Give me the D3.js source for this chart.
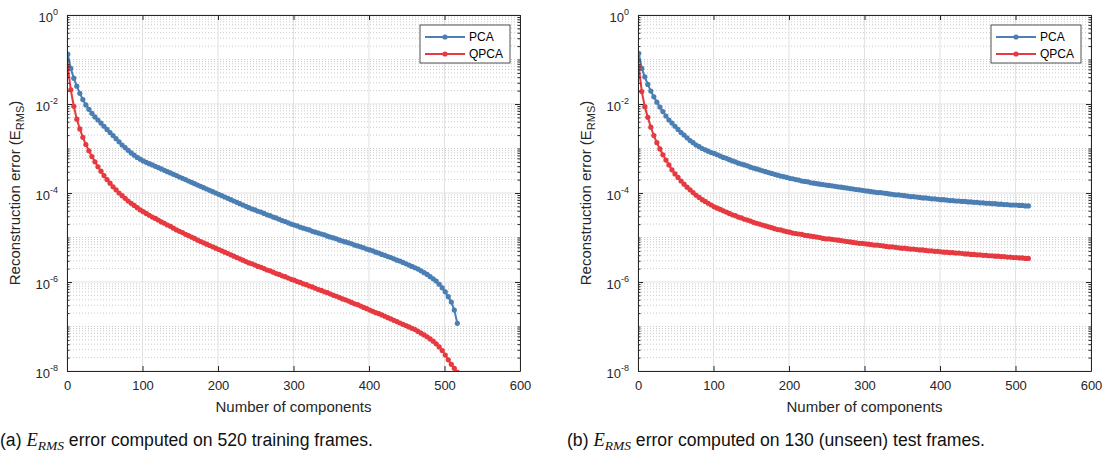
<!DOCTYPE html>
<html><head><meta charset="utf-8">
<script src="https://cdn.jsdelivr.net/npm/d3@7"></script>
<style>body{margin:0;background:#fff}svg{display:block}</style>
</head><body><svg id="c" width="1110" height="454"></svg>
<script>
// ---------- data ----------
const components = [1,5,9,13,17,21,25,29,33,37,41,45,49,53,57,61,65,69,73,77,81,85,89,93,97,101,105,109,113,117,121,125,129,133,137,141,145,149,153,157,161,165,169,173,177,181,185,189,193,197,201,205,209,213,217,221,225,229,233,237,241,245,249,253,257,261,265,269,273,277,281,285,289,293,297,301,305,309,313,317,321,325,329,333,337,341,345,349,353,357,361,365,369,373,377,381,385,389,393,397,401,405,409,413,417,421,425,429,433,437,441,445,449,453,457,461,465,469,473,477,481,485,489,493,497,501,505,509,513,517];

const pcaTrain = [
1.32e-1,6.31e-2,3.80e-2,2.51e-2,1.74e-2,1.26e-2,9.55e-3,7.59e-3,6.17e-3,5.13e-3,
4.37e-3,3.72e-3,3.16e-3,2.69e-3,2.29e-3,1.95e-3,1.66e-3,1.41e-3,1.20e-3,1.05e-3,
9.12e-4,7.94e-4,7.08e-4,6.31e-4,5.75e-4,5.25e-4,4.90e-4,4.57e-4,4.27e-4,3.98e-4,
3.72e-4,3.47e-4,3.24e-4,3.02e-4,2.82e-4,2.63e-4,2.46e-4,2.29e-4,2.14e-4,2.00e-4,
1.86e-4,1.74e-4,1.62e-4,1.51e-4,1.41e-4,1.32e-4,1.23e-4,1.15e-4,1.07e-4,1.00e-4,
9.33e-5,8.71e-5,8.13e-5,7.59e-5,7.08e-5,6.61e-5,6.17e-5,5.75e-5,5.37e-5,5.01e-5,
4.68e-5,4.37e-5,4.17e-5,3.89e-5,3.72e-5,3.47e-5,3.24e-5,3.09e-5,2.88e-5,2.75e-5,
2.57e-5,2.40e-5,2.29e-5,2.14e-5,2.00e-5,1.91e-5,1.82e-5,1.70e-5,1.62e-5,1.55e-5,
1.48e-5,1.38e-5,1.32e-5,1.26e-5,1.20e-5,1.15e-5,1.07e-5,1.02e-5,9.77e-6,9.33e-6,
8.71e-6,8.32e-6,7.94e-6,7.59e-6,7.24e-6,6.76e-6,6.46e-6,6.17e-6,5.89e-6,5.50e-6,
5.25e-6,5.01e-6,4.68e-6,4.47e-6,4.17e-6,3.98e-6,3.72e-6,3.55e-6,3.31e-6,3.09e-6,
2.95e-6,2.75e-6,2.57e-6,2.40e-6,2.24e-6,2.09e-6,1.95e-6,1.78e-6,1.62e-6,1.48e-6,
1.32e-6,1.18e-6,1.05e-6,8.91e-7,7.41e-7,6.03e-7,4.68e-7,3.55e-7,2.34e-7,1.18e-7];

const qpcaTrain = [
7.08e-2,2.09e-2,8.91e-3,4.57e-3,2.75e-3,1.78e-3,1.23e-3,8.91e-4,6.61e-4,5.01e-4,
3.89e-4,3.09e-4,2.46e-4,2.00e-4,1.66e-4,1.38e-4,1.18e-4,1.00e-4,8.71e-5,7.59e-5,
6.61e-5,5.89e-5,5.25e-5,4.68e-5,4.17e-5,3.80e-5,3.47e-5,3.16e-5,2.88e-5,2.69e-5,
2.46e-5,2.24e-5,2.09e-5,1.91e-5,1.78e-5,1.62e-5,1.48e-5,1.38e-5,1.29e-5,1.18e-5,
1.10e-5,1.02e-5,9.55e-6,8.71e-6,8.13e-6,7.59e-6,7.08e-6,6.61e-6,6.17e-6,5.75e-6,
5.37e-6,5.01e-6,4.68e-6,4.37e-6,4.07e-6,3.80e-6,3.55e-6,3.31e-6,3.09e-6,2.88e-6,
2.69e-6,2.57e-6,2.40e-6,2.24e-6,2.14e-6,2.00e-6,1.86e-6,1.78e-6,1.66e-6,1.55e-6,
1.48e-6,1.38e-6,1.32e-6,1.23e-6,1.15e-6,1.10e-6,1.02e-6,9.77e-7,9.12e-7,8.71e-7,
8.13e-7,7.76e-7,7.24e-7,6.76e-7,6.46e-7,6.03e-7,5.75e-7,5.37e-7,5.01e-7,4.79e-7,
4.47e-7,4.17e-7,3.98e-7,3.72e-7,3.47e-7,3.24e-7,3.09e-7,2.88e-7,2.69e-7,2.51e-7,
2.34e-7,2.19e-7,2.04e-7,1.95e-7,1.82e-7,1.70e-7,1.58e-7,1.48e-7,1.38e-7,1.29e-7,
1.20e-7,1.12e-7,1.05e-7,9.77e-8,9.12e-8,8.51e-8,7.76e-8,7.08e-8,6.46e-8,5.89e-8,
5.25e-8,4.68e-8,4.07e-8,3.47e-8,2.88e-8,2.29e-8,1.78e-8,1.41e-8,1.15e-8,9.33e-9];

const pcaTest = [
1.38e-1,6.31e-2,4.07e-2,2.75e-2,1.95e-2,1.45e-2,1.10e-2,8.51e-3,6.76e-3,5.37e-3,
4.37e-3,3.72e-3,3.16e-3,2.69e-3,2.29e-3,2.00e-3,1.74e-3,1.51e-3,1.35e-3,1.20e-3,
1.10e-3,1.00e-3,9.33e-4,8.71e-4,8.13e-4,7.76e-4,7.24e-4,6.76e-4,6.31e-4,6.03e-4,
5.62e-4,5.25e-4,5.01e-4,4.68e-4,4.47e-4,4.27e-4,4.07e-4,3.80e-4,3.63e-4,3.47e-4,
3.31e-4,3.16e-4,3.02e-4,2.88e-4,2.75e-4,2.63e-4,2.51e-4,2.40e-4,2.34e-4,2.24e-4,
2.14e-4,2.09e-4,2.00e-4,1.95e-4,1.86e-4,1.82e-4,1.78e-4,1.70e-4,1.66e-4,1.62e-4,
1.58e-4,1.55e-4,1.51e-4,1.48e-4,1.45e-4,1.41e-4,1.38e-4,1.35e-4,1.32e-4,1.29e-4,
1.26e-4,1.23e-4,1.20e-4,1.18e-4,1.15e-4,1.12e-4,1.10e-4,1.07e-4,1.05e-4,1.02e-4,
1.02e-4,1.00e-4,9.77e-5,9.55e-5,9.33e-5,9.12e-5,9.12e-5,8.91e-5,8.71e-5,8.51e-5,
8.32e-5,8.32e-5,8.13e-5,7.94e-5,7.76e-5,7.76e-5,7.59e-5,7.41e-5,7.41e-5,7.24e-5,
7.08e-5,7.08e-5,6.92e-5,6.76e-5,6.76e-5,6.61e-5,6.61e-5,6.46e-5,6.46e-5,6.31e-5,
6.31e-5,6.17e-5,6.17e-5,6.03e-5,6.03e-5,5.89e-5,5.89e-5,5.75e-5,5.75e-5,5.62e-5,
5.62e-5,5.50e-5,5.50e-5,5.37e-5,5.37e-5,5.37e-5,5.25e-5,5.25e-5,5.13e-5,5.13e-5];

const qpcaTest = [
6.92e-2,1.91e-2,8.71e-3,5.01e-3,3.02e-3,1.95e-3,1.35e-3,9.77e-4,7.24e-4,5.50e-4,
4.27e-4,3.31e-4,2.69e-4,2.24e-4,1.86e-4,1.58e-4,1.35e-4,1.18e-4,1.02e-4,8.91e-5,
7.94e-5,7.08e-5,6.46e-5,5.89e-5,5.37e-5,4.90e-5,4.57e-5,4.27e-5,3.98e-5,3.72e-5,
3.47e-5,3.24e-5,3.09e-5,2.88e-5,2.75e-5,2.57e-5,2.46e-5,2.34e-5,2.19e-5,2.09e-5,
2.00e-5,1.91e-5,1.82e-5,1.74e-5,1.66e-5,1.58e-5,1.51e-5,1.48e-5,1.41e-5,1.35e-5,
1.32e-5,1.26e-5,1.23e-5,1.20e-5,1.18e-5,1.12e-5,1.10e-5,1.07e-5,1.05e-5,1.02e-5,
1.00e-5,9.55e-6,9.33e-6,9.33e-6,9.12e-6,8.91e-6,8.71e-6,8.51e-6,8.32e-6,8.13e-6,
7.94e-6,7.76e-6,7.59e-6,7.41e-6,7.41e-6,7.24e-6,7.08e-6,6.92e-6,6.76e-6,6.76e-6,
6.61e-6,6.46e-6,6.31e-6,6.17e-6,6.17e-6,6.03e-6,5.89e-6,5.75e-6,5.75e-6,5.62e-6,
5.50e-6,5.50e-6,5.37e-6,5.25e-6,5.25e-6,5.13e-6,5.01e-6,5.01e-6,4.90e-6,4.90e-6,
4.79e-6,4.68e-6,4.68e-6,4.57e-6,4.57e-6,4.47e-6,4.47e-6,4.37e-6,4.27e-6,4.27e-6,
4.17e-6,4.17e-6,4.07e-6,4.07e-6,3.98e-6,3.98e-6,3.89e-6,3.89e-6,3.80e-6,3.80e-6,
3.72e-6,3.72e-6,3.63e-6,3.63e-6,3.55e-6,3.55e-6,3.47e-6,3.47e-6,3.39e-6,3.39e-6];

const xTicks = [0,100,200,300,400,500,600];
const yTickExponents = [0,-2,-4,-6,-8];
const seriesNames = ["PCA","QPCA"];
const seriesColors = ["#4b7fb4","#e63a40"];
const xLabel = "Number of components";
const yLabel = ["Reconstruction error (E","RMS",")"];
const captions = [
  ["(a) ","E","RMS"," error computed on 520 training frames."],
  ["(b) ","E","RMS"," error computed on 130 (unseen) test frames."]
];

// ---------- layout ----------
const svg = d3.select("#c");
const TOP = 15, BOTTOM = 371, PW = 453;
const AX = "#262626";
const SANS = "'Liberation Sans', Arial, Helvetica, sans-serif";
const SERIF = "'Liberation Serif', 'Times New Roman', serif";
const panels = [
  {left:67, series:[pcaTrain, qpcaTrain], cap:captions[0], capX:0},
  {left:638, series:[pcaTest, qpcaTest], cap:captions[1], capX:567}
];

panels.forEach((p, pi) => {
  const x = d3.scaleLinear().domain([0,600]).range([p.left, p.left+PW]);
  const y = d3.scaleLog().domain([1e-8,1]).range([BOTTOM, TOP]);
  const g = svg.append("g");

  const majorVals = yTickExponents.map(e => Math.pow(10, e));
  const allVals = y.ticks();
  const isMajor = v => majorVals.some(m => Math.abs(v - m) / m < 1e-6);
  const minorVals = allVals.filter(v => !isMajor(v));

  // minor grid (dotted)
  g.append("g").selectAll("line").data(minorVals).join("line")
    .attr("x1", p.left).attr("x2", p.left+PW)
    .attr("y1", d => y(d)).attr("y2", d => y(d))
    .attr("stroke", "#bdbdbd").attr("stroke-width", 0.8).attr("stroke-dasharray", "1,2");
  // major grid
  g.append("g").selectAll("line").data(majorVals).join("line")
    .attr("x1", p.left).attr("x2", p.left+PW)
    .attr("y1", d => y(d)).attr("y2", d => y(d))
    .attr("stroke", "#e1e1e1").attr("stroke-width", 1);
  g.append("g").selectAll("line").data(xTicks).join("line")
    .attr("x1", d => x(d)).attr("x2", d => x(d))
    .attr("y1", TOP).attr("y2", BOTTOM)
    .attr("stroke", "#e1e1e1").attr("stroke-width", 1);

  // clip
  const cid = "clip" + pi;
  svg.append("clipPath").attr("id", cid).append("rect")
    .attr("x", p.left).attr("y", TOP).attr("width", PW).attr("height", BOTTOM-TOP);

  const plot = g.append("g").attr("clip-path", `url(#${cid})`);
  p.series.forEach((vals, si) => {
    const pts = components.map((c, i) => [c, vals[i]]);
    plot.append("path").datum(pts)
      .attr("d", d3.line().x(d => x(d[0])).y(d => y(d[1])))
      .attr("fill", "none").attr("stroke", seriesColors[si]).attr("stroke-width", 2);
    plot.append("g").selectAll("circle").data(pts).join("circle")
      .attr("cx", d => x(d[0])).attr("cy", d => y(d[1])).attr("r", 2.6)
      .attr("fill", seriesColors[si]);
  });

  // axes
  const styleAxis = sel => {
    sel.select(".domain").attr("stroke", AX).attr("stroke-width", 1);
    sel.selectAll(".tick line").attr("stroke", AX).attr("stroke-width", 1);
    sel.selectAll("text").attr("fill", AX).attr("font-family", SANS).attr("font-size", 13);
  };
  const gxb = g.append("g").attr("transform", `translate(0,${BOTTOM})`)
    .call(d3.axisBottom(x).tickValues(xTicks).tickSizeInner(-5).tickSizeOuter(0).tickPadding(10));
  styleAxis(gxb);
  const gxt = g.append("g").attr("transform", `translate(0,${TOP})`)
    .call(d3.axisTop(x).tickValues(xTicks).tickSizeInner(-5).tickSizeOuter(0).tickFormat(""));
  styleAxis(gxt);

  const gyl = g.append("g").attr("transform", `translate(${p.left},0)`)
    .call(d3.axisLeft(y).tickValues(majorVals).tickSizeInner(-5).tickSizeOuter(0).tickPadding(9).tickFormat(() => ""));
  styleAxis(gyl);
  gyl.selectAll(".tick text").attr("dy", "0.48em").each(function(d) {
    const t = d3.select(this);
    t.append("tspan").text("10");
    t.append("tspan").attr("dy", "-0.75em").attr("font-size", 9).text(String(Math.round(Math.log10(d))));
  });
  const gylm = g.append("g").attr("transform", `translate(${p.left},0)`)
    .call(d3.axisLeft(y).tickValues(minorVals).tickSizeInner(-2.5).tickSizeOuter(0).tickFormat(""));
  styleAxis(gylm); gylm.select(".domain").remove();

  const gyr = g.append("g").attr("transform", `translate(${p.left+PW},0)`)
    .call(d3.axisRight(y).tickValues(majorVals).tickSizeInner(-5).tickSizeOuter(0).tickFormat(""));
  styleAxis(gyr);
  const gyrm = g.append("g").attr("transform", `translate(${p.left+PW},0)`)
    .call(d3.axisRight(y).tickValues(minorVals).tickSizeInner(-2.5).tickSizeOuter(0).tickFormat(""));
  styleAxis(gyrm); gyrm.select(".domain").remove();

  // axis labels
  g.append("text").attr("x", p.left + PW/2).attr("y", 412)
    .attr("text-anchor", "middle").attr("font-family", SANS).attr("font-size", 15).attr("fill", AX)
    .text(xLabel);
  const yl = g.append("text").attr("transform", `translate(${p.left-47},${(TOP+BOTTOM)/2}) rotate(-90)`)
    .attr("text-anchor", "middle").attr("font-family", SANS).attr("font-size", 15).attr("fill", AX);
  yl.append("tspan").text(yLabel[0]);
  yl.append("tspan").attr("dy", 4).attr("font-size", 11).text(yLabel[1]);
  yl.append("tspan").attr("dy", -4).text(yLabel[2]);

  // legend
  const lx = p.left + 353, ly = 25;
  const lg = g.append("g");
  lg.append("rect").attr("x", lx).attr("y", ly).attr("width", 90).attr("height", 38)
    .attr("fill", "#fff").attr("stroke", AX).attr("stroke-width", 0.8);
  seriesNames.forEach((nm, si) => {
    const yy = ly + 12 + si*17;
    lg.append("line").attr("x1", lx+5).attr("x2", lx+45).attr("y1", yy).attr("y2", yy)
      .attr("stroke", seriesColors[si]).attr("stroke-width", 2);
    lg.append("circle").attr("cx", lx+25).attr("cy", yy).attr("r", 2.6).attr("fill", seriesColors[si]);
    lg.append("text").attr("x", lx+49).attr("y", yy+4.3).attr("font-family", SANS)
      .attr("font-size", 12).attr("fill", "#000").text(nm);
  });

  // caption
  const ct = svg.append("text").attr("x", p.capX).attr("y", 446)
    .attr("font-family", SANS).attr("font-size", 17.6).attr("fill", "#111");
  ct.append("tspan").text(p.cap[0]);
  ct.append("tspan").attr("font-family", SERIF).attr("font-style", "italic").attr("font-size", 18.5).text(p.cap[1]);
  ct.append("tspan").attr("font-family", SERIF).attr("font-style", "italic").attr("font-size", 13.5).attr("dy", 4).text(p.cap[2]);
  ct.append("tspan").attr("dy", -4).text(p.cap[3]);
});
</script>
</body></html>
